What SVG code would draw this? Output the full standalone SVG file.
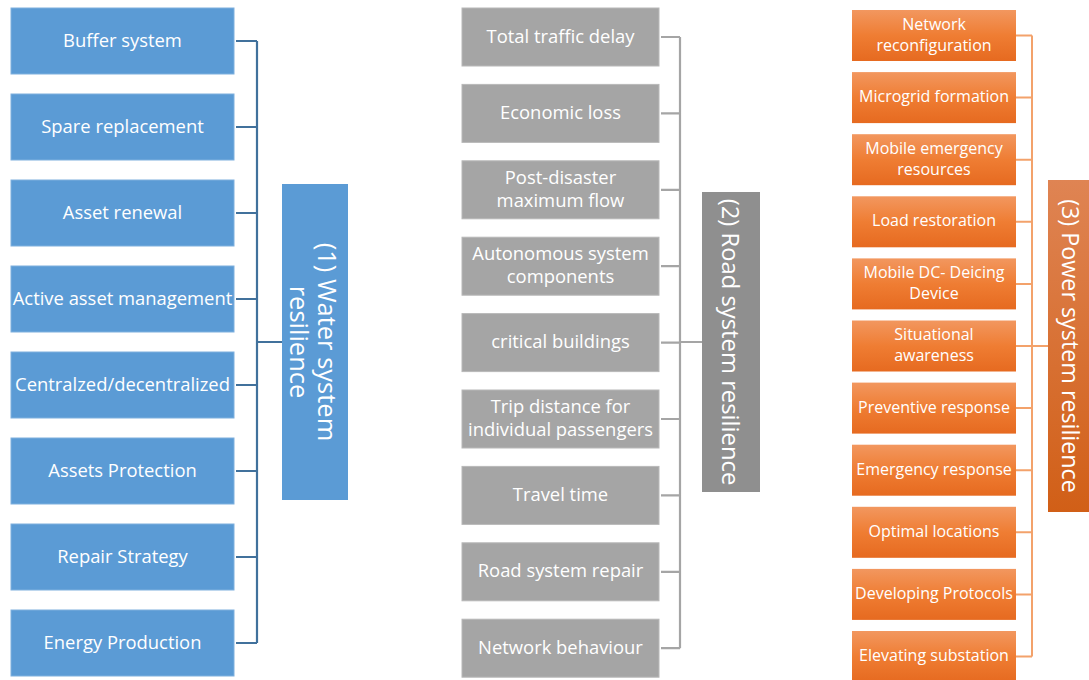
<svg xmlns="http://www.w3.org/2000/svg" width="1089" height="680" viewBox="0 0 1089 680">
  <defs>
    <linearGradient id="orangeFill" x1="0" y1="0" x2="0" y2="1">
      <stop offset="0" stop-color="#F2975F"/>
      <stop offset="0.5" stop-color="#EF7D33"/>
      <stop offset="1" stop-color="#E66A20"/>
    </linearGradient>
    <linearGradient id="orangeHead" x1="0" y1="0" x2="0" y2="1">
      <stop offset="0" stop-color="#DF8453"/>
      <stop offset="1" stop-color="#D15F17"/>
    </linearGradient>
    <style>
      .txt { font-family: "Open Sans", "Noto Sans", "Liberation Sans", sans-serif; fill: #FFFFFF; text-anchor: middle; }
      .w { font-size: 18.4px; dominant-baseline: central; }
      .r { font-size: 18.4px; dominant-baseline: central; }
      .p { font-size: 16px; dominant-baseline: central; }
      .wbox { fill: #5B9BD5; stroke: #7FB0DE; stroke-width: 1; }
      .rbox { fill: #A5A5A5; stroke: #B8B8B8; stroke-width: 1; }
      .pbox { fill: url(#orangeFill); }
      .wline { fill: none; stroke: #41719C; stroke-width: 2.2; }
      .rline { fill: none; stroke: #A5A5A5; stroke-width: 2.2; }
      .pline { fill: none; stroke: #F3A26B; stroke-width: 2; }
    </style>
  </defs>
  <rect width="1089" height="680" fill="#FFFFFF"/>

  <!-- connectors -->
  <g id="connectors">
    <!-- water system bracket -->
    <path class="wline" d="M236 41H257M236 127H257M236 213H257M236 299H257M236 385H257M236 471H257M236 557H257M236 643H257M257 41V643M257 342H282"/>
    <!-- road system bracket -->
    <path class="rline" d="M661 37H680M661 113.4H680M661 189.8H680M661 266.2H680M661 342.6H680M661 419H680M661 495.4H680M661 571.8H680M661 648.2H680M680 37V648.2M680 342H702"/>
    <!-- power system bracket -->
    <path class="pline" d="M1016 35.5H1032M1016 97.6H1032M1016 159.7H1032M1016 221.8H1032M1016 283.9H1032M1016 346H1032M1016 408.1H1032M1016 470.2H1032M1016 532.3H1032M1016 594.4H1032M1016 656.5H1032M1032 35.5V656.5M1032 346H1048"/>
  </g>

  <!-- water system -->
  <g id="water-buffer"><rect class="wbox" x="11" y="8" width="223" height="66"/><text class="txt w" x="122.5" y="39">Buffer system</text></g>
  <g id="water-spare"><rect class="wbox" x="11" y="94" width="223" height="66"/><text class="txt w" x="122.5" y="125">Spare replacement</text></g>
  <g id="water-renewal"><rect class="wbox" x="11" y="180" width="223" height="66"/><text class="txt w" x="122.5" y="211">Asset renewal</text></g>
  <g id="water-active"><rect class="wbox" x="11" y="266" width="223" height="66"/><text class="txt w" x="122.5" y="297">Active asset management</text></g>
  <g id="water-central"><rect class="wbox" x="11" y="352" width="223" height="66"/><text class="txt w" x="122.5" y="383">Centralzed/decentralized</text></g>
  <g id="water-protection"><rect class="wbox" x="11" y="438" width="223" height="66"/><text class="txt w" x="122.5" y="469">Assets Protection</text></g>
  <g id="water-repair"><rect class="wbox" x="11" y="524" width="223" height="66"/><text class="txt w" x="122.5" y="555">Repair Strategy</text></g>
  <g id="water-energy"><rect class="wbox" x="11" y="610" width="223" height="66"/><text class="txt w" x="122.5" y="641">Energy Production</text></g>
  <g id="water-head">
    <rect x="282" y="184" width="66" height="316" fill="#5B9BD5"/>
    <text class="txt" font-size="25.5" transform="translate(318 342) rotate(90)">(1) Water system</text>
    <text class="txt" font-size="25.5" transform="translate(290 342) rotate(90)">resilience</text>
  </g>

  <!-- road system -->
  <g id="road-delay"><rect class="rbox" x="462" y="8" width="197" height="58"/><text class="txt r" x="560.5" y="35">Total traffic delay</text></g>
  <g id="road-loss"><rect class="rbox" x="462" y="84.4" width="197" height="58"/><text class="txt r" x="560.5" y="111.4">Economic loss</text></g>
  <g id="road-flow"><rect class="rbox" x="462" y="160.8" width="197" height="58"/><text class="txt r" x="560.5" y="176.3">Post-disaster</text><text class="txt r" x="560.5" y="199.3">maximum flow</text></g>
  <g id="road-auto"><rect class="rbox" x="462" y="237.2" width="197" height="58"/><text class="txt r" x="560.5" y="252.7">Autonomous system</text><text class="txt r" x="560.5" y="275.7">components</text></g>
  <g id="road-critical"><rect class="rbox" x="462" y="313.6" width="197" height="58"/><text class="txt r" x="560.5" y="340.6">critical buildings</text></g>
  <g id="road-trip"><rect class="rbox" x="462" y="390" width="197" height="58"/><text class="txt r" x="560.5" y="405.5">Trip distance for</text><text class="txt r" x="560.5" y="428.5">individual passengers</text></g>
  <g id="road-travel"><rect class="rbox" x="462" y="466.4" width="197" height="58"/><text class="txt r" x="560.5" y="493.4">Travel time</text></g>
  <g id="road-repair"><rect class="rbox" x="462" y="542.8" width="197" height="58"/><text class="txt r" x="560.5" y="569.8">Road system repair</text></g>
  <g id="road-network"><rect class="rbox" x="462" y="619.2" width="197" height="58"/><text class="txt r" x="560.5" y="646.2">Network behaviour</text></g>
  <g id="road-head">
    <rect x="702" y="192" width="58" height="300" fill="#8F8F8F"/>
    <text class="txt" font-size="23.8" transform="translate(722 342) rotate(90)">(2) Road system resilience</text>
  </g>

  <!-- power system -->
  <g id="power-reconfig"><rect class="pbox" x="852" y="10" width="164" height="51"/><text class="txt p" x="934" y="23.5">Network</text><text class="txt p" x="934" y="44.5">reconfiguration</text></g>
  <g id="power-microgrid"><rect class="pbox" x="852" y="72.1" width="164" height="51"/><text class="txt p" x="934" y="96.1">Microgrid formation</text></g>
  <g id="power-mobile"><rect class="pbox" x="852" y="134.2" width="164" height="51"/><text class="txt p" x="934" y="147.7">Mobile emergency</text><text class="txt p" x="934" y="168.7">resources</text></g>
  <g id="power-load"><rect class="pbox" x="852" y="196.3" width="164" height="51"/><text class="txt p" x="934" y="220.3">Load restoration</text></g>
  <g id="power-deicing"><rect class="pbox" x="852" y="258.4" width="164" height="51"/><text class="txt p" x="934" y="271.9">Mobile DC- Deicing</text><text class="txt p" x="934" y="292.9">Device</text></g>
  <g id="power-awareness"><rect class="pbox" x="852" y="320.5" width="164" height="51"/><text class="txt p" x="934" y="334">Situational</text><text class="txt p" x="934" y="355">awareness</text></g>
  <g id="power-preventive"><rect class="pbox" x="852" y="382.6" width="164" height="51"/><text class="txt p" x="934" y="406.6">Preventive response</text></g>
  <g id="power-emergency"><rect class="pbox" x="852" y="444.7" width="164" height="51"/><text class="txt p" x="934" y="468.7">Emergency response</text></g>
  <g id="power-locations"><rect class="pbox" x="852" y="506.8" width="164" height="51"/><text class="txt p" x="934" y="530.8">Optimal locations</text></g>
  <g id="power-protocols"><rect class="pbox" x="852" y="568.9" width="164" height="51"/><text class="txt p" x="934" y="592.9">Developing Protocols</text></g>
  <g id="power-substation"><rect class="pbox" x="852" y="631" width="164" height="51"/><text class="txt p" x="934" y="655">Elevating substation</text></g>
  <g id="power-head">
    <rect x="1048" y="180" width="41" height="332" fill="url(#orangeHead)"/>
    <text class="txt" font-size="23.3" transform="translate(1062 346) rotate(90)">(3) Power system resilience</text>
  </g>
</svg>
